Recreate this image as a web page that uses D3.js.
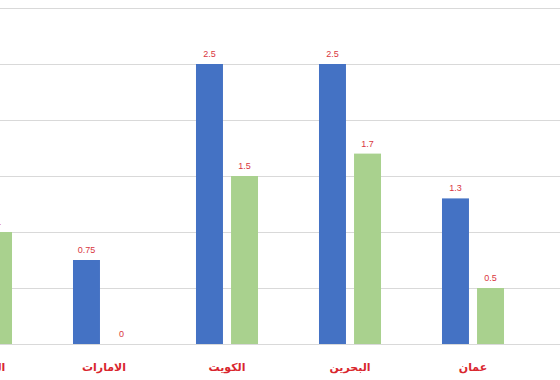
<!DOCTYPE html>
<html>
<head>
<meta charset="utf-8">
<script src="https://cdn.jsdelivr.net/npm/d3@7"></script>
<style>
  body { margin: 0; background: #fff; }
  svg { display: block; }
</style>
</head>
<body>
<div id="chart"></div>
<script>
// categories (first one is cut off at the left edge in the original)
const categories = ['السعودية', 'الامارات', 'الكويت', 'البحرين', 'عمان'];
const series = ['blue', 'green'];
const blueValues = [2, 0.75, 2.5, 2.5, 1.3];
const greenValues = [1, 0, 1.5, 1.7, 0.5];
const yTicks = [0, 0.5, 1, 1.5, 2, 2.5, 3];

const width = 560, height = 380;
const colors = { blue: '#4472C4', green: '#A9D18E' };

const svg = d3.select('#chart')
    .append('svg')
    .attr('width', width)
    .attr('height', height);

const x0 = d3.scaleBand()
    .domain(categories)
    .range([-80.5, -80.5 + categories.length * 123])
    .padding(0);

const x1 = d3.scaleBand()
    .domain(series)
    .range([0, x0.bandwidth()])
    .paddingInner(0.23)
    .paddingOuter(0.87);

const y = d3.scaleLinear()
    .domain([0, 3])
    .range([344, 8]);

// gridlines
svg.append('g')
    .selectAll('line')
    .data(yTicks)
    .enter()
    .append('line')
    .attr('x1', 0)
    .attr('x2', width)
    .attr('y1', d => Math.round(y(d)) + 0.5)
    .attr('y2', d => Math.round(y(d)) + 0.5)
    .attr('stroke', '#d9d9d9')
    .attr('stroke-width', 1);

const rows = categories.map((c, i) => ({
    cat: c,
    values: [
        { key: 'blue', value: blueValues[i] },
        { key: 'green', value: greenValues[i] }
    ]
}));

const groups = svg.selectAll('.group')
    .data(rows)
    .enter()
    .append('g')
    .attr('class', 'group')
    .attr('transform', d => `translate(${x0(d.cat)},0)`);

groups.selectAll('rect')
    .data(d => d.values)
    .enter()
    .append('rect')
    .attr('x', d => x1(d.key))
    .attr('width', x1.bandwidth())
    .attr('y', d => y(d.value))
    .attr('height', d => y(0) - y(d.value))
    .attr('fill', d => colors[d.key]);

// value labels
groups.selectAll('.value-label')
    .data(d => d.values)
    .enter()
    .append('text')
    .attr('class', 'value-label')
    .attr('x', d => x1(d.key) + x1.bandwidth() / 2)
    .attr('y', d => y(d.value) - 7)
    .attr('text-anchor', 'middle')
    .attr('fill', '#D9363E')
    .attr('font-family', 'Liberation Sans, Arial, sans-serif')
    .attr('font-size', 9)
    .text(d => d.value);

// category labels
groups.append('text')
    .attr('x', x0.bandwidth() / 2)
    .attr('y', 371)
    .attr('text-anchor', 'middle')
    .attr('fill', '#D9262E')
    .attr('font-family', 'DejaVu Sans, sans-serif')
    .attr('font-weight', 'bold')
    .attr('font-size', 11)
    .text(d => d.cat);
</script>
</body>
</html>
